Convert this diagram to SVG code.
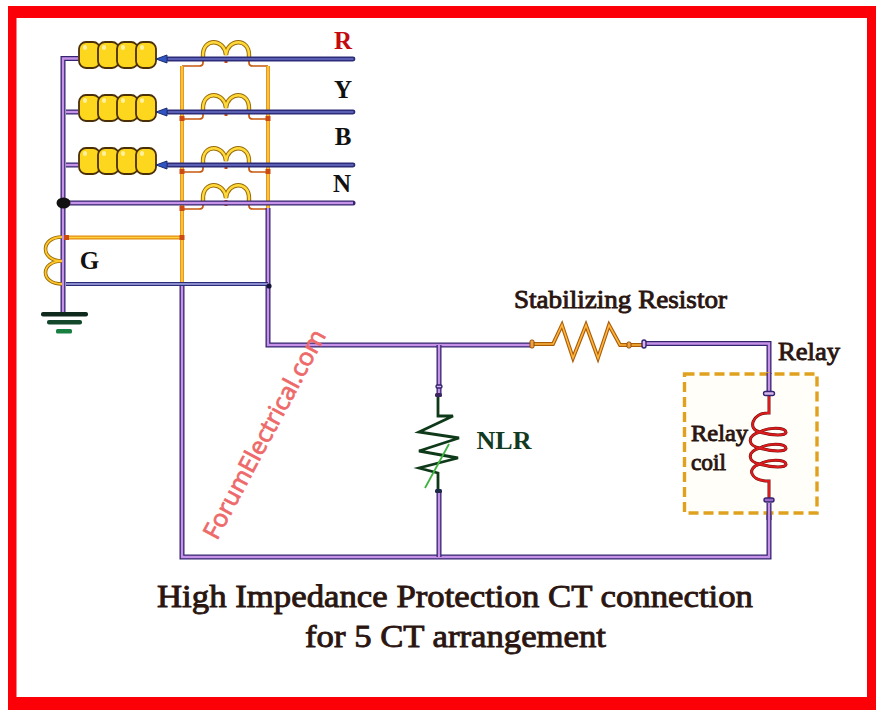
<svg xmlns="http://www.w3.org/2000/svg" width="883" height="720" viewBox="0 0 883 720">
<defs>
<style>
.bw{fill:none;stroke:#35246f;stroke-width:5}
.bi{fill:none;stroke:#c592e8;stroke-width:2.400}
.hw{fill:none;stroke:#2c2c78;stroke-width:4.800;stroke-linecap:round}
.hi{fill:none;stroke:#6a70c8;stroke-width:1.300;stroke-linecap:round}
.gw{fill:none;stroke:#2c2c78;stroke-width:4.200}
.gi{fill:none;stroke:#a9acea;stroke-width:1.600}
.ow{fill:none;stroke:#e38c12;stroke-width:3.800}
.oi{fill:none;stroke:#ffd23c;stroke-width:1.600}
.ol{fill:none;stroke:#c8590f;stroke-width:1.700;stroke-linejoin:round}
.lobe{fill:#fdd71e;stroke:#4a2f08;stroke-width:1.800}
.shine{fill:#fff0a0}
.bump{fill:none;stroke:#9a6a08;stroke-width:4.400}
.bumpi{fill:none;stroke:#ffd93a;stroke-width:2.400}
.node{fill:#cc4a10}
.lab{font-family:"Liberation Serif","DejaVu Serif",serif;font-weight:bold;text-anchor:middle}
.ser{font-family:"Liberation Serif","DejaVu Serif",serif;fill:#2a1510;stroke:#2a1510;stroke-width:.9}
.cap{fill:#d8b8ec;stroke:#35246f;stroke-width:1.400}
</style>
<g id="ctcoil">
<rect class="lobe" x="79" y="-17" width="21" height="26" rx="7"/>
<rect class="lobe" x="98" y="-17" width="21" height="26" rx="7"/>
<rect class="lobe" x="117" y="-17" width="21" height="26" rx="7"/>
<rect class="lobe" x="136" y="-17" width="20" height="26" rx="7"/>
<rect class="shine" x="83" y="-14" width="4" height="5" rx="2"/>
<rect class="shine" x="102" y="-14" width="4" height="5" rx="2"/>
<rect class="shine" x="121" y="-14" width="4" height="5" rx="2"/>
<rect class="shine" x="140" y="-14" width="4" height="5" rx="2"/>
<path d="M167-4L156 0L167 4Z" fill="#2f56c0" stroke="#1c2a70" stroke-width="1"/>
</g>
<g id="sec">
<path class="bump" d="M203 0V-4C203-21 224-21 226-4C228-21 249-21 249-4V0"/>
<path class="bumpi" d="M203 0V-4C203-21 224-21 226-4C228-21 249-21 249-4V0"/>
<path class="ol" d="M203 0V4Q203 7 199 7H182M249 0V4Q249 7 253 7H268"/>
<rect class="node" x="224.500" y="-2" width="3" height="6"/>
</g>
</defs>
<rect width="883" height="720" fill="#fff"/>
<path id="frame" fill="#fc0008" fill-rule="evenodd" d="M8 6H876V710H8ZM16.500 18V697H867V18Z"/>
<g id="ct-secondaries">
<use href="#sec" y="59"/><use href="#sec" y="112"/><use href="#sec" y="165"/><use href="#sec" y="202"/>
</g>
<g id="connectors">
<path class="ow" d="M182 66V284M268 66V208"/>
<path class="oi" d="M182 66V284M268 66V208"/>
<path class="ow" d="M63 237.500H182"/>
<path class="oi" d="M63 237.500H182"/>
<path class="bw" d="M78 58.500H63V313"/>
<path class="bi" d="M78 58.500H63V313"/>
<path class="bw" d="M66 112H78M66 165H78"/>
<path class="bi" d="M66 112H78M66 165H78"/>
<path class="bw" d="M268 208V345H532"/>
<path class="bi" d="M268 208V345H532"/>
<path class="bw" d="M182 284V557H769V503"/>
<path class="bi" d="M182 284V557H769V503"/>
<path class="bw" d="M643 343.500H769V393"/>
<path class="bi" d="M643 343.500H769V393"/>
<path class="bw" d="M439 345V394M439 492V557"/>
<path class="bi" d="M439 345V394M439 492V557"/>
<path class="hw" d="M168 59H353M168 112H353M168 165H353"/>
<path class="hi" d="M168 59H353M168 112H353M168 165H353"/>
<path class="bw" d="M63 203H353" stroke-linecap="round"/>
<path class="bi" d="M63 203H353"/>
<path class="gw" d="M66 284H268"/>
<path class="gi" d="M66 284H268"/>
<rect class="node" x="179.500" y="235" width="5" height="5"/>
<rect class="node" x="179.500" y="116" width="5" height="5"/>
<rect class="node" x="179.500" y="169" width="5" height="5"/>
<rect class="node" x="179.500" y="206" width="5" height="5"/>
<rect class="node" x="265.500" y="116" width="5" height="5"/>
<rect class="node" x="265.500" y="169" width="5" height="5"/>
<ellipse cx="63.500" cy="203" rx="7" ry="5.500" fill="#111"/>
<circle cx="269" cy="286" r="2.600" fill="#15153a"/>
</g>
<g id="ct-r"><use href="#ctcoil" y="59"/></g>
<g id="ct-y"><use href="#ctcoil" y="112"/></g>
<g id="ct-b"><use href="#ctcoil" y="165"/></g>
<g id="ct-g">
<path d="M62 237C40 237 40 261 62 261C40 261 40 284 62 284" fill="none" stroke="#9a6a08" stroke-width="3.600"/>
<path d="M62 237C40 237 40 261 62 261C40 261 40 284 62 284" fill="none" stroke="#ffc82a" stroke-width="1.800"/>
<rect class="node" x="64" y="235" width="5" height="5"/>
<text class="lab" x="89.500" y="269" font-size="25" fill="#111">G</text>
</g>
<g id="ground">
<rect x="41" y="312" width="47" height="4.500" rx="2" fill="#0f2a1c"/>
<rect x="47" y="320" width="35" height="4.500" rx="2" fill="#14482c"/>
<rect x="56" y="329" width="16" height="4.500" rx="1.500" fill="#178040"/>
</g>
<g id="labels">
<text class="lab" x="343" y="49" font-size="25" fill="#c30a10">R</text>
<text class="lab" x="343" y="98" font-size="25" fill="#111">Y</text>
<text class="lab" x="343" y="145" font-size="25" fill="#111">B</text>
<text class="lab" x="342" y="192" font-size="25" fill="#111">N</text>
</g>
<g id="stabilizing-resistor">
<path d="M532 344H553L562 325L573 358L586 325L598 358L609 325L620 345H643" fill="none" stroke="#a85c08" stroke-width="3.800"/>
<path d="M532 344H553L562 325L573 358L586 325L598 358L609 325L620 345H643" fill="none" stroke="#ffb43c" stroke-width="1.600"/>
<rect x="530" y="340" width="4" height="8" rx="1.500" fill="#f0a040" stroke="#8a4c08"/>
<rect x="627" y="342" width="4" height="6" rx="1.500" fill="#f0a040" stroke="#8a4c08"/>
<rect class="cap" x="642" y="340" width="4" height="8" rx="2"/>
<text class="ser" x="514" y="308" font-size="26" textLength="213" lengthAdjust="spacingAndGlyphs">Stabilizing Resistor</text>
</g>
<g id="relay">
<rect x="684.500" y="374" width="132.500" height="139" fill="#fffef8" stroke="#e0a21e" stroke-width="3.400" stroke-dasharray="10 5"/>
<path class="bw" d="M769 373V393"/>
<path class="bi" d="M769 373V393"/>
<path class="bw" d="M769 503V520"/>
<path class="bi" d="M769 503V520"/>
<path d="M769 393V413C752 412 747 430 760 432C772 436 787 436 786 432C785 427 768 427 760 432C746 436 748 446 760 448C772 452 787 452 786 448C785 443 768 443 760 448C746 452 748 462 760 464C772 468 787 468 786 464C785 459 768 459 760 464C746 468 750 481 769 481V500" fill="none" stroke="#6a1010" stroke-width="3"/>
<path d="M769 393V413C752 412 747 430 760 432C772 436 787 436 786 432C785 427 768 427 760 432C746 436 748 446 760 448C772 452 787 452 786 448C785 443 768 443 760 448C746 452 748 462 760 464C772 468 787 468 786 464C785 459 768 459 760 464C746 468 750 481 769 481V500" fill="none" stroke="#dc1c1c" stroke-width="2"/>
<rect class="cap" x="763.500" y="391.500" width="11" height="4" rx="2"/>
<rect class="cap" x="764" y="498" width="10" height="4" rx="2" style="fill:#9a6ac8"/>
<text class="ser" x="778" y="360" font-size="26" textLength="62" lengthAdjust="spacingAndGlyphs">Relay</text>
<text class="ser" x="691" y="441" font-size="24" textLength="57" lengthAdjust="spacingAndGlyphs">Relay</text>
<text class="ser" x="691" y="470" font-size="24" textLength="35" lengthAdjust="spacingAndGlyphs">coil</text>
</g>
<g id="nlr">
<path d="M438 397V416H453L419 432L459 438L419 451L458 458L419 468L438 473V491" fill="none" stroke="#0f3a1a" stroke-width="2.800"/>
<path d="M425 488L449 444" stroke="#3fb43f" stroke-width="1.800" fill="none"/>
<rect class="cap" x="436" y="385" width="6" height="3" rx="1.500"/>
<rect x="435" y="393" width="7" height="4" rx="1.500" fill="#3a2560"/>
<rect x="435" y="489" width="7" height="4" rx="1.500" fill="#1d2a4a"/>
<text class="lab" x="504" y="449" font-size="26" fill="#123a20">NLR</text>
</g>
<text id="watermark" transform="translate(217 541) rotate(-62)" font-family="Open Sans,Liberation Sans,sans-serif" font-size="24" fill="#ee6a6a" stroke="#ee6a6a" stroke-width=".8" textLength="233" lengthAdjust="spacingAndGlyphs">ForumElectrical.com</text>
<g id="title">
<text class="ser" x="157" y="607" font-size="32" textLength="596" lengthAdjust="spacingAndGlyphs">High Impedance Protection CT connection</text>
<text class="ser" x="305" y="647" font-size="32" textLength="301" lengthAdjust="spacingAndGlyphs">for 5 CT arrangement</text>
</g>
</svg>
